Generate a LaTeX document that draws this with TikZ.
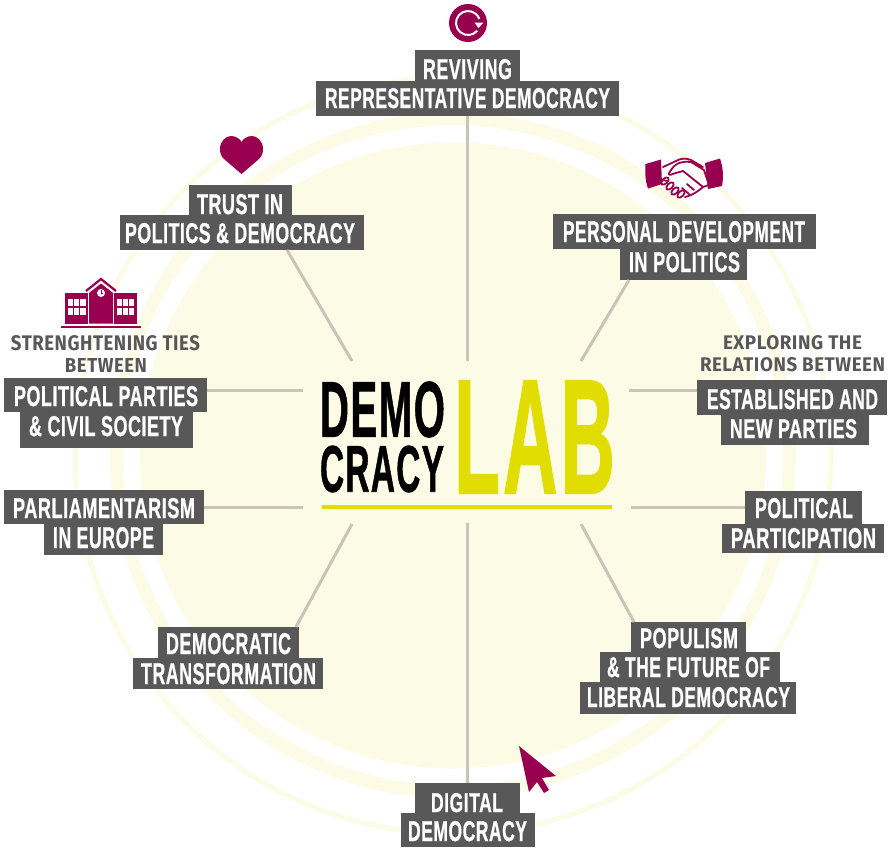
\documentclass[tikz,border=0pt]{standalone}
\usepackage{fontspec}
\usepackage{graphicx}
\setmainfont{Liberation Sans}
\newfontfamily\lbfontx{Liberation Sans}[BoldFeatures={FakeBold=1.0,LetterSpace=3}]
\newfontfamily\lgfontx{Liberation Sans}[BoldFeatures={FakeBold=1.2,LetterSpace=4}]
\newfontfamily\smfontx{Fira Sans}[BoldFeatures={LetterSpace=3}]
\newcommand\lbfont{\lbfontx\bfseries}
\newcommand\lgfont{\lgfontx\bfseries}
\newcommand\smfont{\smfontx\bfseries}
\definecolor{mag}{HTML}{98004F}
\definecolor{disk}{HTML}{FCFBE6}
\definecolor{lgray}{HTML}{585858}
\definecolor{conn}{HTML}{C9C4B8}
\definecolor{lime}{HTML}{E2DD00}
\tikzset{
  labbox/.style={fill=lgray,inner sep=0pt,outer sep=0pt,text=white},
  plaintext/.style={inner sep=0pt,outer sep=0pt},
  connector/.style={draw=conn,line width=2.25pt},
  icon/.style={fill=mag,draw=none},
}
\def\parseB#1,#2,#3,#4;{\def\bxa{#1}\def\bxb{#2}\def\bya{#3}\def\byb{#4}}
\def\parseT#1,#2,#3,#4;{\def\txa{#1}\def\txb{#2}\def\tya{#3}\def\tyb{#4}}
\newcommand\lab[4]{%
  \parseB#2;\parseT#3;%
  \pgfmathsetmacro\cx{(\bxa+\bxb)/2}%
  \pgfmathsetmacro\cy{(\bya+\byb)/2}%
  \pgfmathsetmacro\bw{(\bxb-\bxa)*.75}%
  \pgfmathsetmacro\bh{(\byb-\bya)*.75}%
  \pgfmathsetmacro\tw{(\txb-\txa)*.75}%
  \pgfmathsetmacro\tth{(\tyb-\tya)*.75}%
  \pgfmathsetmacro\dx{(\txa-\cx)*.75}%
  \pgfmathsetmacro\dy{(\cy-\tyb)*.75}%
  \node[labbox,minimum width=\bw pt,minimum height=\bh pt] (#1) at (\cx,\cy)
    {\smash{\makebox[0pt][l]{\hspace*{\dx pt}\raisebox{\dy pt}{\resizebox{\tw pt}{\tth pt}{\lbfont #4}}}}};%
}
\newcommand\txt[4]{%
  \parseT#2;%
  \pgfmathsetmacro\cx{(\txa+\txb)/2}%
  \pgfmathsetmacro\cy{(\tya+\tyb)/2}%
  \pgfmathsetmacro\tw{(\txb-\txa)*.75}%
  \pgfmathsetmacro\tth{(\tyb-\tya)*.75}%
  \node[plaintext,text=#3] (#1) at (\cx,\cy) {\resizebox{\tw pt}{\tth pt}{#4}};%
}
\begin{document}
\begin{tikzpicture}[x=.75pt,y=-.75pt]
\useasboundingbox (0,0) rectangle (891,847);
% disk and rings
\fill[disk] (453,455.5) circle[radius=313];
\draw[disk,line width=9.5pt] (453,455.5) circle[radius=336.5];
\draw[disk,line width=3.75pt] (453,455.5) circle[radius=378];
% labels
\lab{rev1}{415,520,50,81}{423,512,59,79}{REVIVING}
\lab{rev2}{316,619,81,116}{325,610,88,108}{REPRESENTATIVE DEMOCRACY}
\lab{tru1}{189,292,185,215}{197,283,194,214}{TRUST IN}
\lab{tru2}{120,364,215,250}{125,355,223,243}{POLITICS \& DEMOCRACY}
\lab{per1}{553,816,214,249}{563,805,221,242}{PERSONAL DEVELOPMENT}
\lab{per2}{620,747,249,280}{629,740,252,272}{IN POLITICS}
\lab{est1}{697,887,380,415}{707,878,389,409}{ESTABLISHED AND}
\lab{est2}{721,869,415,445}{730,857,419,438}{NEW PARTIES}
\lab{pol1}{745,862,491,524}{755,853,498,518}{POLITICAL}
\lab{pol2}{722,884,524,553}{731,876,528,548}{PARTICIPATION}
\lab{pop1}{631,746,622,652}{640,738,628,648}{POPULISM}
\lab{pop2}{600,780,652,682}{607,770,657,677}{\& THE FUTURE OF}
\lab{pop3}{580,796,682,714}{587,790,687,707}{LIBERAL DEMOCRACY}
\lab{dig1}{415,520,783,813}{431,503,793,812}{DIGITAL}
\lab{dig2}{401,535,813,847}{408,527,821,841}{DEMOCRACY}
\lab{dem1}{158,299,627,658}{166,291,633,654}{DEMOCRATIC}
\lab{dem2}{133,323,658,689}{141,316,663,684}{TRANSFORMATION}
\lab{par1}{4,204,490,524}{13,195,498,518}{PARLIAMENTARISM}
\lab{par2}{44,163,524,555}{53,154,527,548}{IN EUROPE}
\lab{civ1}{4,207,378,412}{14,198,386,406}{POLITICAL PARTIES}
\lab{civ2}{20,193,412,448}{29,183,416,436}{\& CIVIL SOCIETY}
% small captions
\txt{sa}{11,200,336,351}{lgray}{\smfont STRENGHTENING TIES}
\txt{sb}{65,147,358,372}{lgray}{\smfont BETWEEN}
\txt{ea}{723,862,336,350}{lgray}{\smfont EXPLORING THE}
\txt{eb}{700,885,358,372}{lgray}{\smfont RELATIONS BETWEEN}
% logo
\txt{lga}{320,445,382,437}{black}{\lgfont DEMO}
\txt{lgb}{320,444,446,492}{black}{\lgfont CRACY}
\txt{lgc}{454,615,381,493}{lime}{\lgfont LAB}
\fill[lime] (322,505) rectangle (612,509);
% hubs
\coordinate (hT) at (467.5,361);
\coordinate (hTR) at (581,361);
\coordinate (hR1) at (629,390);
\coordinate (hR2) at (631,507);
\coordinate (hBR) at (581,524);
\coordinate (hB) at (467.5,523);
\coordinate (hBL) at (352,524);
\coordinate (hL2) at (303,507);
\coordinate (hL1) at (303,390);
\coordinate (hTL) at (352,361);
% connectors
\draw[connector] (rev2.south) -- (hT);
\draw[connector] ([xshift=-40.875pt]per2.south) -- (hTR);
\draw[connector] (est1.west |- hR1) -- (hR1);
\draw[connector] (pol1.west |- hR2) -- (hR2);
\draw[connector] ([xshift=-40.875pt]pop1.north) -- (hBR);
\draw[connector] (dig1.north) -- (hB);
\draw[connector] ([xshift=50.6pt]dem1.north) -- (hBL);
\draw[connector] (par1.east |- hL2) -- (hL2);
\draw[connector] (civ1.east |- hL1) -- (hL1);
\draw[connector] ([xshift=33.75pt]tru2.south) -- (hTL);
% reload icon
\fill[mag] (468,23) circle[radius=19];
\draw[white,line width=1.5pt] (468,23) ++(40:12) arc[start angle=40,end angle=340,radius=12];
\fill[white] (474.5,22.5) -- (483.5,22.5) -- (478.5,28) -- cycle;
% heart
\fill[icon] (241.5,174) -- (224,159) .. controls (221,156) and (220,153) .. (220,149)
  .. controls (220,141) and (226,136) .. (231,136) .. controls (236,136) and (240,139) .. (241.5,142)
  .. controls (243,139) and (247,136) .. (252,136) .. controls (257,136) and (263,141) .. (263,149)
  .. controls (263,153) and (262,156) .. (259,159) -- cycle;
% school
\fill[icon] (65,293) rectangle (88,323.5);
\fill[icon] (114,293) rectangle (137,323.5);
\fill[icon] (89,323.5) -- (89,293) -- (101,283.5) -- (113,293) -- (113,323.5) -- cycle;
\draw[mag,line width=1.7pt] (86,291) -- (101,279) -- (116,291);
\fill[mag] (61,325.5) rectangle (141,328);
\fill[white] (101,293) circle[radius=4];
\draw[mag,line width=.6pt] (101,293) -- (101,290) (101,293) -- (103,293);
\foreach \wx in {68,116.5}{
  \fill[white] (\wx,299) rectangle ++(17.5,16);
  \draw[mag,line width=.9pt] (\wx+5.8,299) -- (\wx+5.8,315) (\wx+11.7,299) -- (\wx+11.7,315) (\wx,307) -- (\wx+17.5,307);
}
% handshake
\fill[icon] (645.5,164) -- (661,159.5) -- (662,184) -- (648,188.5) .. controls (645,180) and (645,172) .. (645.5,164) -- cycle;
\fill[icon] (705,163) -- (720,158.5) .. controls (723.5,168) and (723.5,178) .. (722,186) -- (708,189) -- cycle;
\draw[mag,line width=1.35pt,line join=round,line cap=round]
  (663,167) -- (676,161) .. controls (681,158) and (686,158) .. (691,160) -- (703,167)
  (671,170) .. controls (667,175) and (669,176) .. (674,173.5) -- (683,171) -- (703,187) .. controls (696,193) and (690,196) .. (685,197)
  (671,170) .. controls (676,162) and (684,161) .. (691,162) -- (704,170) -- (709,185) -- (703,187)
  (662,180) -- (668,181)
  (694,190) -- (687,184) (689,194) -- (682,188);
\foreach \fa/\fb in {665/181,670/186,675/191,681/194}{
  \draw[mag,line width=1.35pt,rotate around={45:(\fa,\fb)}] (\fa,\fb) ellipse[x radius=4.5,y radius=2.6];
}
% cursor
\fill[icon] (519,746) -- (556,776) -- (542,778) -- (549,790) -- (544,793) -- (537,782) -- (529,792) -- cycle;
\end{tikzpicture}
\end{document}
